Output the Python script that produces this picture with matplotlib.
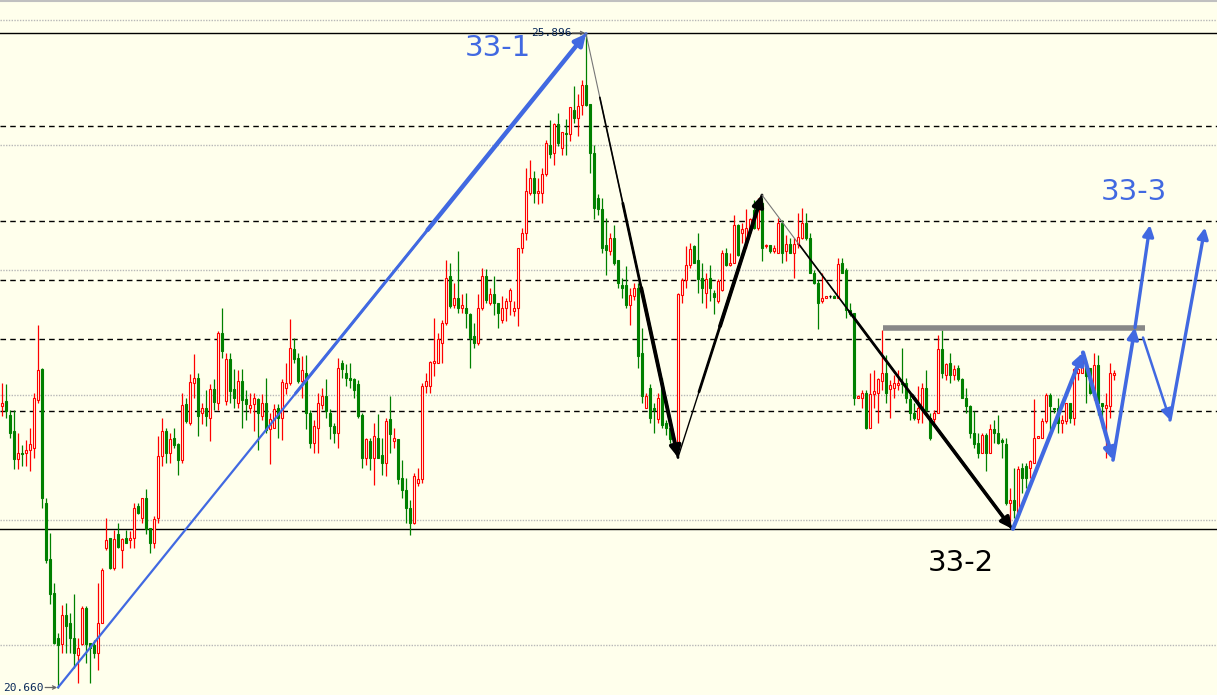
import numpy as np
import matplotlib
matplotlib.use('Agg')
import matplotlib.pyplot as plt

# candle data (one bar per session)
opens = [22.91, 22.95, 22.84, 22.71, 22.49, 22.54, 22.54, 22.56, 22.58, 22.96,
         23.21, 22.14, 21.69, 21.42, 21.06, 21.01, 21.24, 21.18, 21.06, 20.92,
         21.01, 21.30, 21.02, 21.00, 20.94, 21.18, 21.78, 21.86, 21.62, 21.89,
         21.76, 21.86, 21.84, 21.86, 22.11, 22.02, 22.18, 21.94, 21.82, 22.02,
         22.51, 22.71, 22.54, 22.66, 22.61, 22.48, 22.93, 22.78, 23.10, 23.14,
         22.86, 22.90, 22.82, 23.05, 22.94, 23.50, 22.95, 23.29, 23.05, 22.94,
         23.11, 22.97, 22.90, 22.93, 22.97, 22.83, 22.94, 22.73, 22.74, 22.90,
         22.82, 23.06, 23.10, 23.37, 23.30, 23.11, 23.18, 22.86, 22.62, 22.74,
         22.92, 22.99, 22.86, 22.75, 22.70, 23.26, 23.18, 23.14, 23.13, 23.09,
         22.84, 22.50, 22.63, 22.50, 22.66, 22.52, 22.46, 22.81, 22.63, 22.65,
         22.34, 22.24, 22.10, 21.98, 22.30, 22.33, 23.07, 23.07, 23.26, 23.26,
         23.42, 23.58, 23.95, 23.72, 23.78, 23.70, 23.70, 23.65, 23.47, 23.42,
         23.70, 23.95, 23.74, 23.81, 23.74, 23.60, 23.70, 23.75, 23.67, 23.70,
         24.18, 24.30, 24.62, 24.74, 24.62, 24.62, 24.77, 25.00, 24.94, 25.17,
         24.98, 25.10, 25.09, 25.28, 25.22, 25.32, 25.48, 25.33, 24.94, 24.58,
         24.49, 24.20, 24.15, 24.26, 24.08, 23.88, 23.88, 23.72, 23.79, 23.86,
         23.34, 22.90, 23.06, 22.90, 22.81, 23.10, 22.78, 22.74, 22.65, 22.57,
         23.80, 23.92, 24.04, 24.19, 24.08, 23.94, 23.82, 23.94, 23.82, 23.75,
         23.84, 24.14, 24.04, 24.06, 24.36, 24.30, 24.22, 24.34, 24.48, 24.34,
         24.54, 24.19, 24.20, 24.15, 24.14, 24.38, 24.15, 24.21, 24.14, 24.21,
         24.26, 24.38, 24.26, 23.98, 23.90, 23.75, 23.78, 23.79, 23.79, 23.78,
         24.06, 24.00, 23.68, 23.66, 22.98, 22.98, 23.02, 22.74, 23.01, 23.02,
         23.11, 23.18, 23.05, 23.06, 23.08, 23.10, 23.10, 22.97, 22.86, 22.81,
         22.89, 23.06, 22.82, 22.81, 22.86, 23.37, 23.16, 23.26, 23.16, 23.22,
         23.13, 22.98, 22.91, 22.70, 22.62, 22.54, 22.68, 22.54, 22.73, 22.70,
         22.64, 22.61, 22.14, 22.16, 22.04, 22.42, 22.43, 22.42, 22.46, 22.66,
         22.66, 22.79, 23.00, 22.90, 22.90, 22.78, 22.79, 22.94, 22.82, 23.18,
         23.18, 23.26, 23.22, 23.02, 23.24, 22.94, 22.90, 22.91, 23.16]
highs = [23.10, 23.09, 22.88, 22.88, 22.70, 22.60, 22.64, 22.74, 23.02, 23.56,
         23.22, 22.18, 21.90, 21.50, 21.10, 21.32, 21.34, 21.26, 21.41, 21.06,
         21.31, 21.31, 21.02, 21.04, 21.50, 21.62, 22.02, 21.86, 21.92, 21.98,
         21.86, 21.92, 21.91, 22.14, 22.14, 22.18, 22.25, 21.94, 22.03, 22.67,
         22.82, 22.74, 22.70, 22.74, 22.62, 23.02, 22.98, 23.17, 23.33, 23.18,
         22.94, 23.04, 23.09, 23.13, 23.51, 23.70, 23.34, 23.34, 23.21, 23.20,
         23.21, 23.04, 23.02, 23.02, 22.98, 23.01, 23.14, 22.86, 22.93, 22.93,
         23.13, 23.26, 23.61, 23.46, 23.34, 23.31, 23.32, 22.88, 22.80, 23.02,
         23.06, 23.13, 22.89, 22.78, 23.30, 23.28, 23.25, 23.26, 23.14, 23.12,
         22.86, 22.66, 22.66, 22.78, 22.85, 22.66, 22.82, 22.99, 22.74, 22.65,
         22.48, 22.34, 22.16, 22.38, 22.42, 23.10, 23.18, 23.27, 23.62, 23.50,
         23.60, 24.08, 24.06, 23.90, 24.15, 23.81, 23.82, 23.66, 23.58, 23.81,
         24.02, 24.01, 23.86, 23.95, 23.74, 23.79, 23.78, 23.86, 23.75, 24.18,
         24.34, 24.82, 24.88, 24.79, 24.74, 24.82, 25.04, 25.20, 25.18, 25.26,
         25.10, 25.21, 25.30, 25.47, 25.41, 25.52, 25.896, 25.33, 25.00, 24.61,
         24.58, 24.42, 24.30, 24.36, 24.08, 23.94, 24.03, 23.86, 23.90, 23.90,
         23.54, 23.02, 23.09, 22.94, 23.02, 23.14, 22.80, 22.76, 22.66, 23.82,
         23.94, 24.19, 24.22, 24.20, 24.30, 24.06, 23.98, 24.04, 23.84, 23.93,
         24.16, 24.18, 24.14, 24.44, 24.37, 24.38, 24.49, 24.42, 24.56, 24.58,
         24.58, 24.21, 24.20, 24.20, 24.42, 24.40, 24.28, 24.26, 24.26, 24.46,
         24.50, 24.46, 24.30, 24.00, 23.92, 23.98, 23.79, 23.80, 23.80, 24.10,
         24.10, 24.02, 23.74, 23.66, 23.00, 23.04, 23.04, 23.18, 23.20, 23.14,
         23.52, 23.32, 23.12, 23.16, 23.20, 23.38, 23.14, 23.02, 22.94, 23.07,
         23.10, 23.20, 22.86, 22.88, 23.48, 23.52, 23.26, 23.34, 23.24, 23.24,
         23.14, 23.06, 22.92, 22.87, 22.70, 22.70, 22.70, 22.77, 22.80, 22.84,
         22.66, 22.66, 22.26, 22.42, 22.43, 22.46, 22.46, 22.48, 22.97, 22.67,
         22.82, 23.02, 23.02, 22.90, 22.98, 22.84, 22.94, 22.94, 23.22, 23.28,
         23.34, 23.28, 23.22, 23.34, 23.32, 22.94, 23.02, 23.26, 23.20]
lows = [22.83, 22.82, 22.66, 22.41, 22.41, 22.43, 22.43, 22.39, 22.50, 22.94,
        22.10, 21.66, 21.33, 21.01, 20.66, 20.94, 20.94, 20.94, 20.82, 20.70,
        21.00, 20.86, 20.70, 20.90, 20.80, 21.18, 21.76, 21.61, 21.60, 21.78,
        21.62, 21.82, 21.78, 21.78, 22.05, 21.98, 21.89, 21.74, 21.78, 21.98,
        22.43, 22.46, 22.46, 22.58, 22.36, 22.46, 22.78, 22.76, 22.98, 22.67,
        22.77, 22.75, 22.63, 22.88, 22.88, 23.30, 22.92, 22.94, 22.90, 22.90,
        22.74, 22.80, 22.86, 22.71, 22.56, 22.80, 22.70, 22.45, 22.74, 22.66,
        22.64, 23.01, 23.08, 23.26, 23.10, 22.98, 22.73, 22.58, 22.54, 22.54,
        22.89, 22.82, 22.65, 22.62, 22.58, 23.14, 23.07, 23.06, 22.98, 22.82,
        22.42, 22.44, 22.40, 22.28, 22.50, 22.36, 22.35, 22.54, 22.58, 22.29,
        22.18, 21.98, 21.88, 21.97, 22.27, 22.30, 23.02, 23.02, 23.15, 23.26,
        23.26, 23.56, 23.70, 23.70, 23.66, 23.66, 23.54, 23.22, 23.38, 23.40,
        23.68, 23.74, 23.72, 23.64, 23.54, 23.58, 23.59, 23.64, 23.63, 23.55,
        24.14, 24.24, 24.60, 24.54, 24.53, 24.54, 24.75, 24.90, 24.84, 24.99,
        24.92, 24.92, 25.03, 25.18, 25.07, 25.24, 25.31, 24.78, 24.41, 24.44,
        24.14, 23.96, 24.12, 24.04, 23.86, 23.78, 23.70, 23.56, 23.76, 23.22,
        22.94, 22.90, 22.78, 22.70, 22.78, 22.74, 22.68, 22.62, 22.55, 22.55,
        23.74, 23.86, 24.02, 24.06, 23.82, 23.74, 23.70, 23.75, 23.65, 23.74,
        23.83, 24.03, 24.03, 24.06, 24.11, 24.22, 24.18, 24.30, 24.33, 24.32,
        24.07, 24.18, 24.14, 24.14, 24.14, 24.06, 24.07, 24.14, 23.94, 24.18,
        24.25, 24.24, 23.98, 23.89, 23.53, 23.74, 23.78, 23.78, 23.78, 23.78,
        23.98, 23.62, 23.63, 22.92, 22.98, 22.90, 22.73, 22.74, 22.90, 22.78,
        23.04, 22.94, 22.82, 22.98, 23.04, 23.02, 22.94, 22.80, 22.80, 22.78,
        22.78, 22.86, 22.64, 22.78, 22.86, 23.14, 23.12, 23.10, 23.12, 23.11,
        22.98, 22.86, 22.66, 22.58, 22.50, 22.54, 22.39, 22.54, 22.62, 22.61,
        22.50, 22.12, 21.98, 22.02, 22.02, 22.22, 22.26, 22.34, 22.46, 22.66,
        22.66, 22.78, 22.72, 22.86, 22.70, 22.70, 22.77, 22.78, 22.76, 23.12,
        23.18, 22.94, 23.01, 22.96, 22.84, 22.74, 22.50, 22.82, 23.12]
closes = [22.94, 22.87, 22.70, 22.49, 22.54, 22.53, 22.56, 22.61, 22.98, 23.20,
          22.18, 21.68, 21.41, 21.02, 21.00, 21.24, 21.15, 21.06, 20.94, 20.98,
          21.30, 21.01, 20.98, 20.94, 21.18, 21.60, 21.84, 21.62, 21.85, 21.78,
          21.85, 21.82, 21.86, 22.10, 22.06, 22.18, 21.93, 21.82, 22.01, 22.51,
          22.71, 22.54, 22.65, 22.60, 22.48, 22.92, 22.79, 23.10, 23.14, 22.83,
          22.90, 22.83, 23.05, 22.94, 23.50, 23.35, 23.29, 23.03, 22.98, 23.11,
          22.96, 22.93, 22.92, 22.98, 22.86, 22.94, 22.72, 22.81, 22.89, 22.82,
          23.10, 23.10, 23.38, 23.29, 23.11, 23.20, 22.86, 22.62, 22.75, 22.94,
          22.99, 22.87, 22.75, 22.70, 23.22, 23.21, 23.14, 23.12, 23.04, 22.83,
          22.50, 22.65, 22.50, 22.67, 22.50, 22.46, 22.79, 22.69, 22.66, 22.33,
          22.24, 22.10, 21.98, 22.35, 22.33, 23.07, 23.11, 23.26, 23.27, 23.45,
          23.58, 23.94, 23.71, 23.78, 23.70, 23.72, 23.66, 23.46, 23.42, 23.70,
          23.95, 23.76, 23.81, 23.74, 23.66, 23.70, 23.75, 23.84, 23.70, 24.18,
          24.30, 24.63, 24.74, 24.62, 24.63, 24.77, 25.02, 24.93, 25.17, 25.02,
          25.10, 25.09, 25.30, 25.22, 25.31, 25.48, 25.32, 24.94, 24.50, 24.49,
          24.18, 24.16, 24.26, 24.06, 23.90, 23.86, 23.72, 23.80, 23.86, 23.31,
          22.99, 22.99, 22.82, 22.88, 22.98, 22.76, 22.74, 22.65, 22.57, 23.81,
          23.92, 24.04, 24.17, 24.06, 23.93, 23.86, 23.93, 23.86, 23.78, 23.91,
          24.14, 24.04, 24.06, 24.36, 24.12, 24.33, 24.34, 24.41, 24.34, 24.54,
          24.18, 24.20, 24.15, 24.18, 24.38, 24.14, 24.21, 24.14, 24.21, 24.26,
          24.38, 24.26, 23.98, 23.90, 23.74, 23.78, 23.79, 23.79, 23.78, 24.05,
          23.98, 23.68, 23.65, 22.98, 22.99, 23.02, 22.74, 23.01, 23.03, 23.13,
          23.18, 23.02, 23.08, 23.10, 23.10, 23.09, 22.98, 22.86, 22.82, 22.90,
          23.06, 22.88, 22.66, 22.86, 23.37, 23.18, 23.25, 23.16, 23.21, 23.13,
          22.98, 22.91, 22.70, 22.61, 22.54, 22.68, 22.54, 22.73, 22.70, 22.62,
          22.62, 22.14, 22.16, 22.08, 22.41, 22.34, 22.34, 22.47, 22.66, 22.67,
          22.79, 23.00, 22.91, 22.89, 22.78, 22.80, 22.94, 22.82, 23.21, 23.21,
          23.30, 23.15, 23.02, 23.24, 22.94, 22.91, 22.92, 23.18, 23.18]

peak_price = 25.896
low_price = 20.660
dashed_levels = [25.15, 24.39, 23.92, 23.45, 22.87]
solid_levels = [25.896, 21.93]
grid_levels = [26.0, 25.0, 24.0, 23.0, 22.0, 21.0]

bg = '#ffffec'
up_col = '#ff0000'
down_col = '#008000'
blue = '#4169e1'

o = np.array(opens)
h = np.array(highs)
l = np.array(lows)
c = np.array(closes)
x = np.arange(len(o))

fig = plt.figure(figsize=(12.17, 6.95), dpi=100)
fig.patch.set_facecolor(bg)
ax = fig.add_axes([0, 0, 1, 1])
ax.set_facecolor(bg)
ax.set_xlim(-0.5, 303.75)
ax.set_ylim(20.60, 26.16)
ax.axis('off')

# background levels
for g in grid_levels:
    ax.axhline(g, color='#b8b8b8', lw=1, ls=(0, (1, 1)), zorder=0)
for d in dashed_levels:
    ax.axhline(d, color='black', lw=1, ls=(0, (4, 3)), zorder=1)
for s in solid_levels:
    ax.axhline(s, color='black', lw=1, zorder=1)
ax.axhline(26.152, color='#c0c0c0', lw=1.5, zorder=1)

up = c > o
dn = c < o
eq = c == o

# wicks
ax.vlines(x[up], l[up], h[up], color=up_col, lw=0.9, zorder=2)
ax.vlines(x[dn], l[dn], h[dn], color=down_col, lw=0.9, zorder=2)
ax.vlines(x[eq], l[eq], h[eq], color='black', lw=0.9, zorder=2)

# bodies
ax.bar(x[up], c[up] - o[up], bottom=o[up], width=0.68, facecolor=bg,
       edgecolor=up_col, lw=0.8, zorder=3)
ax.bar(x[dn], c[dn] - o[dn], bottom=o[dn], width=0.68, facecolor=down_col,
       edgecolor=down_col, lw=0.8, zorder=3)
ax.bar(x[eq], 0.004, bottom=o[eq], width=0.68, facecolor='black',
       edgecolor='black', lw=0.8, zorder=3)


def arrow(p0, p1, color, lw, ms=16):
    ax.annotate('', xy=p1, xytext=p0, zorder=6,
                arrowprops=dict(arrowstyle='-|>', color=color, lw=lw,
                                mutation_scale=ms, shrinkA=0, shrinkB=0,
                                capstyle='round'))


def tapered(p0, p1, color, widths, fracs):
    # line that gets thicker towards the arrow tip
    x0, y0 = p0
    x1, y1 = p1
    for w, f in zip(widths[:-1], fracs):
        xs = x0 + (x1 - x0) * f
        ys = y0 + (y1 - y0) * f
        ax.plot([xs, x1], [ys, y1], color=color, lw=w, zorder=5,
                solid_capstyle='round')
    fs = fracs[-1]
    arrow((x0 + (x1 - x0) * fs, y0 + (y1 - y0) * fs), p1, color, widths[-1])


# 33-1 blue leg
tapered((14, 20.66), (146, 25.89), blue, [1.6, 2.2, 3.2], [0.0, 0.45, 0.7])

# black legs
ax.plot([146, 169], [25.89, 22.50], color='#777777', lw=0.8, zorder=5)
tapered((146, 25.89), (169, 22.50), 'black', [1.2, 2.0, 2.8], [0.15, 0.4, 0.6])
tapered((169, 22.50), (190, 24.60), 'black', [1.0, 2.0, 2.8], [0.0, 0.25, 0.5])
ax.plot([190, 252.5], [24.60, 21.93], color='#777777', lw=0.8, zorder=5)
tapered((190, 24.60), (252.5, 21.93), 'black', [1.2, 2.0, 2.6], [0.15, 0.35, 0.6])

# resistance bar
ax.plot([220.25, 285.75], [23.54, 23.54], color='#888888', lw=4, zorder=4,
        solid_capstyle='butt')

# projected blue path
arrow((252.75, 21.93), (270.25, 23.34), blue, 3)
arrow((270.25, 23.34), (277.75, 22.48), blue, 3)
arrow((277.75, 22.48), (283.25, 23.54), blue, 2.6)
arrow((283.25, 23.54), (287, 24.36), blue, 2.4)
arrow((285.25, 23.46), (292, 22.80), blue, 1.8)
arrow((292, 22.80), (300.75, 24.34), blue, 2.4)

# labels
ax.text(124, 25.78, '33-1', color=blue, fontsize=21, ha='center', va='center', zorder=7)
ax.text(239.75, 21.66, '33-2', color='black', fontsize=21, ha='center', va='center', zorder=7)
ax.text(283, 24.62, '33-3', color=blue, fontsize=21, ha='center', va='center', zorder=7)

ax.text(142.5, peak_price, '25.896', color='#0b2a5a', fontsize=8,
        family='DejaVu Sans Mono', ha='right', va='center', zorder=7)
ax.annotate('', xy=(145.8, peak_price), xytext=(142.6, peak_price), zorder=7,
            arrowprops=dict(arrowstyle='->', color='#666666', lw=0.9,
                            shrinkA=0, shrinkB=0, mutation_scale=6))
ax.text(10.5, low_price, '20.660', color='#0b2a5a', fontsize=8,
        family='DejaVu Sans Mono', ha='right', va='center', zorder=7)
ax.annotate('', xy=(13.8, low_price), xytext=(10.8, low_price), zorder=7,
            arrowprops=dict(arrowstyle='->', color='#666666', lw=0.9,
                            shrinkA=0, shrinkB=0, mutation_scale=6))

fig.savefig('out.png', dpi=100, facecolor=bg)
